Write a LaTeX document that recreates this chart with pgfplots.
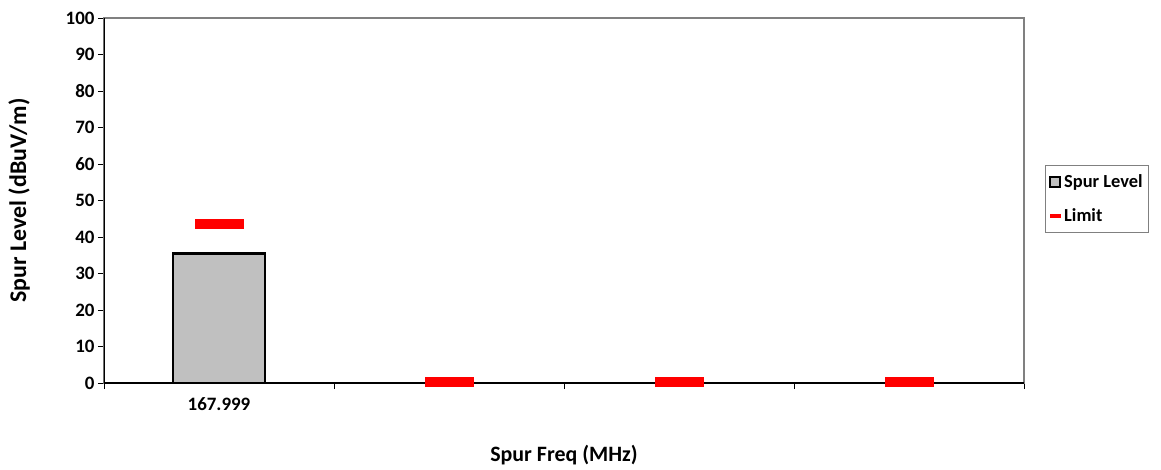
\documentclass[border=0pt]{standalone}
\usepackage{pgfplots}
\pgfplotsset{compat=1.18}
\usepackage{fontspec}
\setmainfont{Carlito}

\definecolor{barfill}{HTML}{C0C0C0}
\definecolor{framegray}{HTML}{808080}
\definecolor{limitred}{HTML}{FF0000}

% flat red dash used for the limit values
\pgfdeclareplotmark{limitdash}{%
  \pgfpathrectangle{\pgfpoint{-24.5bp}{-5bp}}{\pgfpoint{49bp}{10bp}}%
  \pgfusepathqfill}

\begin{document}
\begin{tikzpicture}
\begin{axis}[
    scale only axis,
    width=920bp, height=365bp,
    xmin=-0.5, xmax=3.5,
    ymin=0, ymax=100,
    ytick={0,10,...,100},
    xtick={-0.5,0.5,1.5,2.5,3.5},
    xticklabels={},
    extra x ticks={0},
    extra x tick labels={167.999},
    extra x tick style={major tick length=0pt},
    tick align=outside,
    major tick length=6bp,
    tick style={black, line width=0.8bp},
    xtick pos=bottom, ytick pos=left,
    axis line style={framegray, line width=1.2bp},
    /pgf/number format/assume math mode=true,
    ticklabel style={font=\fontsize{19}{22}\selectfont\bfseries},
    xticklabel style={yshift=-11bp},
    xlabel={Spur Freq (MHz)},
    ylabel={Spur Level (dBuV/m)},
    xlabel style={font=\fontsize{22}{26}\selectfont\bfseries, yshift=-22bp},
    ylabel style={font=\fontsize{24}{28}\selectfont\bfseries, yshift=29bp},
    legend style={
        at={(axis description cs:1.0228,0.597)}, anchor=north west,
        draw=framegray, line width=0.8bp,
        font=\fontsize{18.5}{21}\selectfont\bfseries,
        row sep=16bp, inner xsep=4bp, inner ysep=7bp,
        cells={anchor=west},
    },
]
\addplot[ybar, bar width=92bp, fill=barfill, draw=black, line width=2.6bp,
    legend image code/.code={
        \draw[fill=barfill, draw=black, line width=1.6bp]
            (0bp,-5bp) rectangle (10bp,5bp);
        \path[draw=none, fill=none] (10bp,0) -- (12bp,0);}]
    coordinates {(0,35.5)};
\addlegendentry{Spur Level}
\addplot[only marks, mark=limitdash, limitred,
    legend image code/.code={
        \fill[limitred] (0bp,-1.6bp) rectangle (10bp,1.6bp);
        \path[draw=none, fill=none] (10bp,0) -- (12bp,0);}]
    coordinates {(0,43.6) (1,0.3) (2,0.3) (3,0.3)};
\addlegendentry{Limit}
% black left and bottom axis lines over the gray frame
\draw[black, line width=1.4bp] (rel axis cs:0,1) -- (rel axis cs:0,0) -- (rel axis cs:1,0);
\end{axis}
\pgfresetboundingbox
\path[use as bounding box] (-104bp,-87bp) rectangle (1057bp,383bp);
\end{tikzpicture}
\end{document}
